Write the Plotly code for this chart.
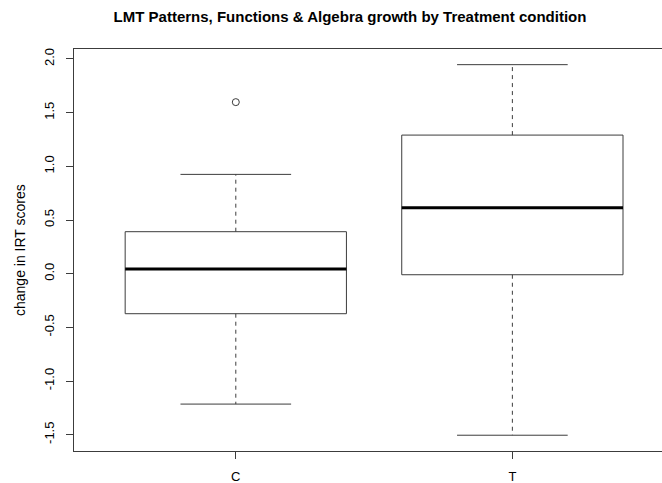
import plotly.graph_objects as go

# Treatment groups and their five-number summaries (change in IRT scores)
groups = ["C", "T"]
lower_whisker = [-1.215, -1.505]
q1 = [-0.373, -0.010]
median = [0.043, 0.614]
q3 = [0.391, 1.291]
upper_whisker = [0.925, 1.947]
outliers = [[1.598], []]

y_ticks = [-1.5, -1.0, -0.5, 0.0, 0.5, 1.0, 1.5, 2.0]

box_half = 0.4
cap_half = 0.2
line_col = "#3c3c3c"

fig = go.Figure()

for i, g in enumerate(groups):
    xc = i + 1
    # box body
    fig.add_trace(go.Scatter(
        x=[xc - box_half, xc + box_half, xc + box_half, xc - box_half, xc - box_half],
        y=[q1[i], q1[i], q3[i], q3[i], q1[i]],
        mode="lines", line=dict(color=line_col, width=1),
        hoverinfo="skip", showlegend=False))
    # median
    fig.add_trace(go.Scatter(
        x=[xc - box_half, xc + box_half], y=[median[i], median[i]],
        mode="lines", line=dict(color="black", width=3),
        hoverinfo="skip", showlegend=False))
    # dashed whiskers
    for a, b in [(q3[i], upper_whisker[i]), (q1[i], lower_whisker[i])]:
        fig.add_trace(go.Scatter(
            x=[xc, xc], y=[a, b], mode="lines",
            line=dict(color=line_col, width=1, dash="4px,4px"),
            hoverinfo="skip", showlegend=False))
    # whisker caps
    for v in [upper_whisker[i], lower_whisker[i]]:
        fig.add_trace(go.Scatter(
            x=[xc - cap_half, xc + cap_half], y=[v, v], mode="lines",
            line=dict(color=line_col, width=1),
            hoverinfo="skip", showlegend=False))
    # outliers
    if outliers[i]:
        fig.add_trace(go.Scatter(
            x=[xc] * len(outliers[i]), y=outliers[i], mode="markers",
            marker=dict(symbol="circle-open", size=7, color=line_col,
                        line=dict(width=1)),
            hoverinfo="skip", showlegend=False))

fig.update_layout(
    width=662, height=483,
    margin=dict(l=74, r=0, t=49, b=32),
    paper_bgcolor="white", plot_bgcolor="white",
    font=dict(family="Liberation Sans, Arial, sans-serif", size=12, color="black"),
    title=dict(text="<b>LMT Patterns, Functions & Algebra growth by Treatment condition</b>",
               x=350 / 662, xanchor="center", xref="container",
               y=1 - 17 / 483, yanchor="middle", yref="container",
               font=dict(size=15, color="black")),
    xaxis=dict(range=[0.415, 2.541], tickvals=[1, 2], ticktext=groups,
               showgrid=False, zeroline=False, showline=True, mirror=True,
               linecolor=line_col, linewidth=1, ticks="outside", ticklen=7,
               tickcolor=line_col, tickfont=dict(size=13),
               ticklabelstandoff=6),
    yaxis=dict(range=[-1.652, 2.093], tickvals=y_ticks,
               ticktext=[f"{v:.1f}" for v in y_ticks], tickangle=-90,
               showgrid=False, zeroline=False, showline=True, mirror=False,
               linecolor=line_col, linewidth=1, ticks="outside", ticklen=7,
               tickcolor=line_col, tickfont=dict(size=13),
               ticklabelstandoff=7),
    annotations=[dict(text="change in IRT scores", textangle=-90,
                      xref="paper", yref="paper", x=(20 - 74) / 588, y=0.5,
                      xanchor="center", yanchor="middle", showarrow=False,
                      font=dict(size=14, color="black"))],
)

fig.write_html("out.html")
